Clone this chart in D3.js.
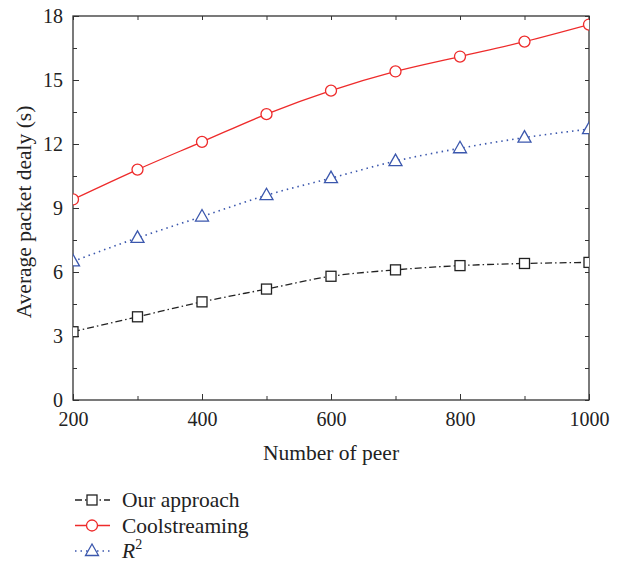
<!DOCTYPE html>
<html>
<head>
<meta charset="utf-8">
<script src="https://cdn.jsdelivr.net/npm/d3@7"></script>
<style>
  body { margin: 0; background: #fff; }
  svg text { font-family: "Liberation Serif", "DejaVu Serif", serif; fill: #222; }
</style>
</head>
<body>
<svg id="chart"></svg>
<script>
// data
const peers = [200, 300, 400, 500, 600, 700, 800, 900, 1000];
const ourApproach = [3.2, 3.9, 4.6, 5.2, 5.8, 6.1, 6.3, 6.4, 6.45];
const coolstreaming = [9.4, 10.8, 12.1, 13.4, 14.5, 15.4, 16.1, 16.8, 17.6];
const rSquared = [6.5, 7.6, 8.6, 9.6, 10.4, 11.2, 11.8, 12.3, 12.7];
const xTicks = [200, 400, 600, 800, 1000];
const yTicks = [0, 3, 6, 9, 12, 15, 18];

const series = [
    { name: 'Our approach', values: ourApproach, color: '#222', dash: '7,3,1.5,3', marker: 'square' },
    { name: 'Coolstreaming', values: coolstreaming, color: '#ee2b2b', dash: null, marker: 'circle' },
    { name: 'R2', values: rSquared, color: '#3b57ad', dash: '1.5,4', marker: 'triangle' }
];

const width = 622, height = 564;
const margin = { top: 16, right: 33, bottom: 164, left: 73 };
const innerW = width - margin.left - margin.right;
const innerH = height - margin.top - margin.bottom;

const svg = d3.select('#chart').attr('width', width).attr('height', height);
const chart = svg.append('g').attr('transform', `translate(${margin.left},${margin.top})`);

const x = d3.scaleLinear().domain([200, 1000]).range([0, innerW]);
const y = d3.scaleLinear().domain([0, 18]).range([innerH, 0]);

svg.append('defs').append('clipPath').attr('id', 'plotclip')
    .append('rect').attr('width', innerW).attr('height', innerH);

// minor and major ticks on all four sides, pointing inward
const xMinor = d3.range(200, 1001, 100);
const yMinor = d3.range(0, 18.01, 1.5);

function ticks(g, axis) {
    g.call(axis);
    g.select('.domain').remove();
    g.selectAll('line').attr('stroke', '#333');
}

chart.append('g').attr('transform', `translate(0,${innerH})`)
    .call(g => ticks(g, d3.axisBottom(x).tickValues(xMinor).tickSize(-4).tickFormat('')));
chart.append('g')
    .call(g => ticks(g, d3.axisTop(x).tickValues(xMinor).tickSize(-4).tickFormat('')));
chart.append('g')
    .call(g => ticks(g, d3.axisLeft(y).tickValues(yMinor).tickSize(-4).tickFormat('')));
chart.append('g').attr('transform', `translate(${innerW},0)`)
    .call(g => ticks(g, d3.axisRight(y).tickValues(yMinor).tickSize(-4).tickFormat('')));

// labelled axes
const xAxis = chart.append('g').attr('transform', `translate(0,${innerH})`)
    .call(d3.axisBottom(x).tickValues(xTicks).tickFormat(d3.format('d')).tickSize(-6).tickPadding(12));
const yAxis = chart.append('g')
    .call(d3.axisLeft(y).tickValues(yTicks).tickSize(-6).tickPadding(10));
[xAxis, yAxis].forEach(g => {
    g.select('.domain').remove();
    g.selectAll('line').attr('stroke', '#333');
    g.selectAll('text').style('font-size', '20px').attr('fill', '#222');
});

chart.append('rect')
    .attr('width', innerW).attr('height', innerH)
    .attr('fill', 'none').attr('stroke', '#333').attr('stroke-width', 1.3);

// axis titles
chart.append('text')
    .attr('x', innerW / 2).attr('y', innerH + 60)
    .attr('text-anchor', 'middle').style('font-size', '21.5px')
    .text('Number of peer');
chart.append('text')
    .attr('transform', `translate(-42,${innerH / 2 + 4}) rotate(-90)`)
    .attr('text-anchor', 'middle').style('font-size', '21.5px')
    .text('Average packet dealy (s)');

function drawMarker(g, type, color) {
    if (type === 'square') {
        g.append('rect').attr('x', -5).attr('y', -5).attr('width', 10).attr('height', 10)
            .attr('fill', '#fff').attr('stroke', color).attr('stroke-width', 1.3);
    } else if (type === 'circle') {
        g.append('circle').attr('r', 5.5)
            .attr('fill', '#fff').attr('stroke', color).attr('stroke-width', 1.3);
    } else {
        g.append('path').attr('d', 'M0,-7L6.5,4.5L-6.5,4.5Z')
            .attr('fill', '#fff').attr('stroke', color).attr('stroke-width', 1.3);
    }
}

const plot = chart.append('g').attr('clip-path', 'url(#plotclip)');
const line = d3.line()
    .x((d, i) => x(peers[i]))
    .y(d => y(d))
    .curve(d3.curveMonotoneX);

series.forEach(s => {
    plot.append('path')
        .datum(s.values)
        .attr('d', line)
        .attr('fill', 'none')
        .attr('stroke', s.color)
        .attr('stroke-width', s.marker === 'triangle' ? 1.6 : 1.3)
        .attr('stroke-dasharray', s.dash);
    s.values.forEach((v, i) => {
        const m = plot.append('g').attr('transform', `translate(${x(peers[i])},${y(v)})`);
        drawMarker(m, s.marker, s.color);
    });
});

// legend
const legend = svg.append('g').attr('transform', 'translate(75,500)');
series.forEach((s, i) => {
    const row = legend.append('g').attr('transform', `translate(0,${i * 25.5})`);
    row.append('line').attr('x1', 0).attr('x2', 35)
        .attr('stroke', s.color)
        .attr('stroke-width', s.marker === 'triangle' ? 1.6 : 1.3)
        .attr('stroke-dasharray', s.dash);
    const m = row.append('g').attr('transform', 'translate(17,0)');
    drawMarker(m, s.marker, s.color);
    const t = row.append('text').attr('x', 47).attr('y', 7).style('font-size', '21.5px');
    if (s.name === 'R2') {
        t.append('tspan').style('font-style', 'italic').text('R');
        t.append('tspan').attr('dy', -9).style('font-size', '14px').text('2');
    } else {
        t.text(s.name);
    }
});
</script>
</body>
</html>
